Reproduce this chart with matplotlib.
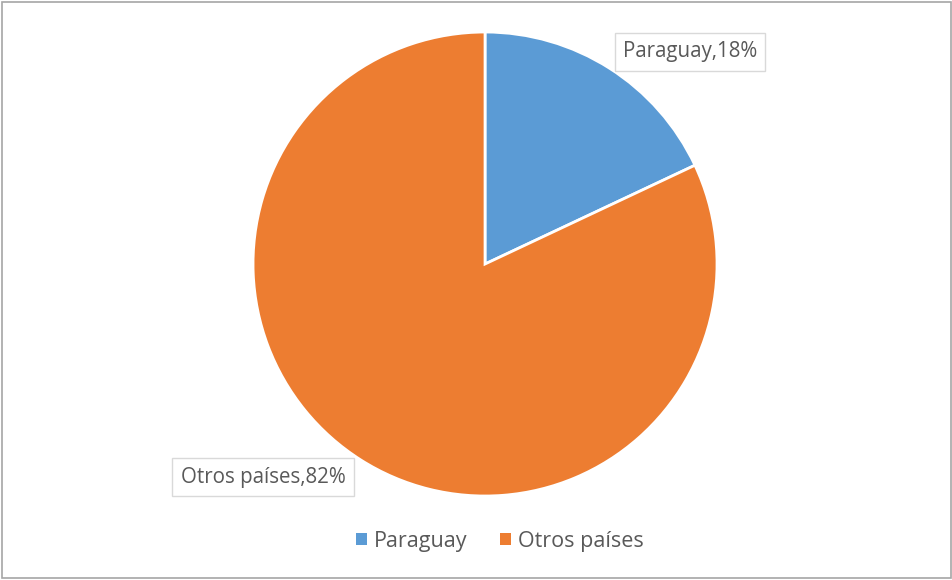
import matplotlib
matplotlib.use('Agg')
import matplotlib.pyplot as plt
from matplotlib.patches import Rectangle, Patch

# datos
categorias = ['Paraguay', 'Otros países']
porcentajes = [18, 82]
colores = ['#5B9BD5', '#ED7D31']

plt.rcParams['font.family'] = ['Open Sans', 'DejaVu Sans']

fig = plt.figure(figsize=(9.53, 5.80), dpi=100)
ax = fig.add_axes([0.2655, 0.1448, 0.4869, 0.8])

wedges, _ = ax.pie(porcentajes, colors=colores, startangle=90, counterclock=False,
                   wedgeprops=dict(edgecolor='white', linewidth=2))
ax.set_xlim(-1, 1)
ax.set_ylim(-1, 1)
ax.set_aspect('equal')

# etiquetas de datos con recuadro
caja = dict(boxstyle='square,pad=0.4', facecolor='white', edgecolor='#D9D9D9', linewidth=1)
posiciones = [(690 / 953, 1 - 52 / 580), (263 / 953, 1 - 477 / 580)]
for cat, pct, (px, py) in zip(categorias, porcentajes, posiciones):
    fig.text(px, py, f'{cat},{pct}%', ha='center', va='center', fontsize=14.8,
             color='#595959', bbox=caja)

# leyenda
handles = [Patch(facecolor=c, edgecolor='none') for c in colores]
fig.legend(handles, categorias, loc='center', bbox_to_anchor=(500 / 953, 1 - 541 / 580),
           ncol=2, frameon=False, fontsize=15.5, labelcolor='#595959',
           handlelength=0.5, handleheight=0.5, handletextpad=0.35, columnspacing=1.5)

# marco exterior
fig.patches.append(Rectangle((0.002, 0.003), 0.996, 0.994, transform=fig.transFigure,
                             fill=False, edgecolor='#A6A6A6', linewidth=1.2))

fig.savefig('out.png', dpi=100)
